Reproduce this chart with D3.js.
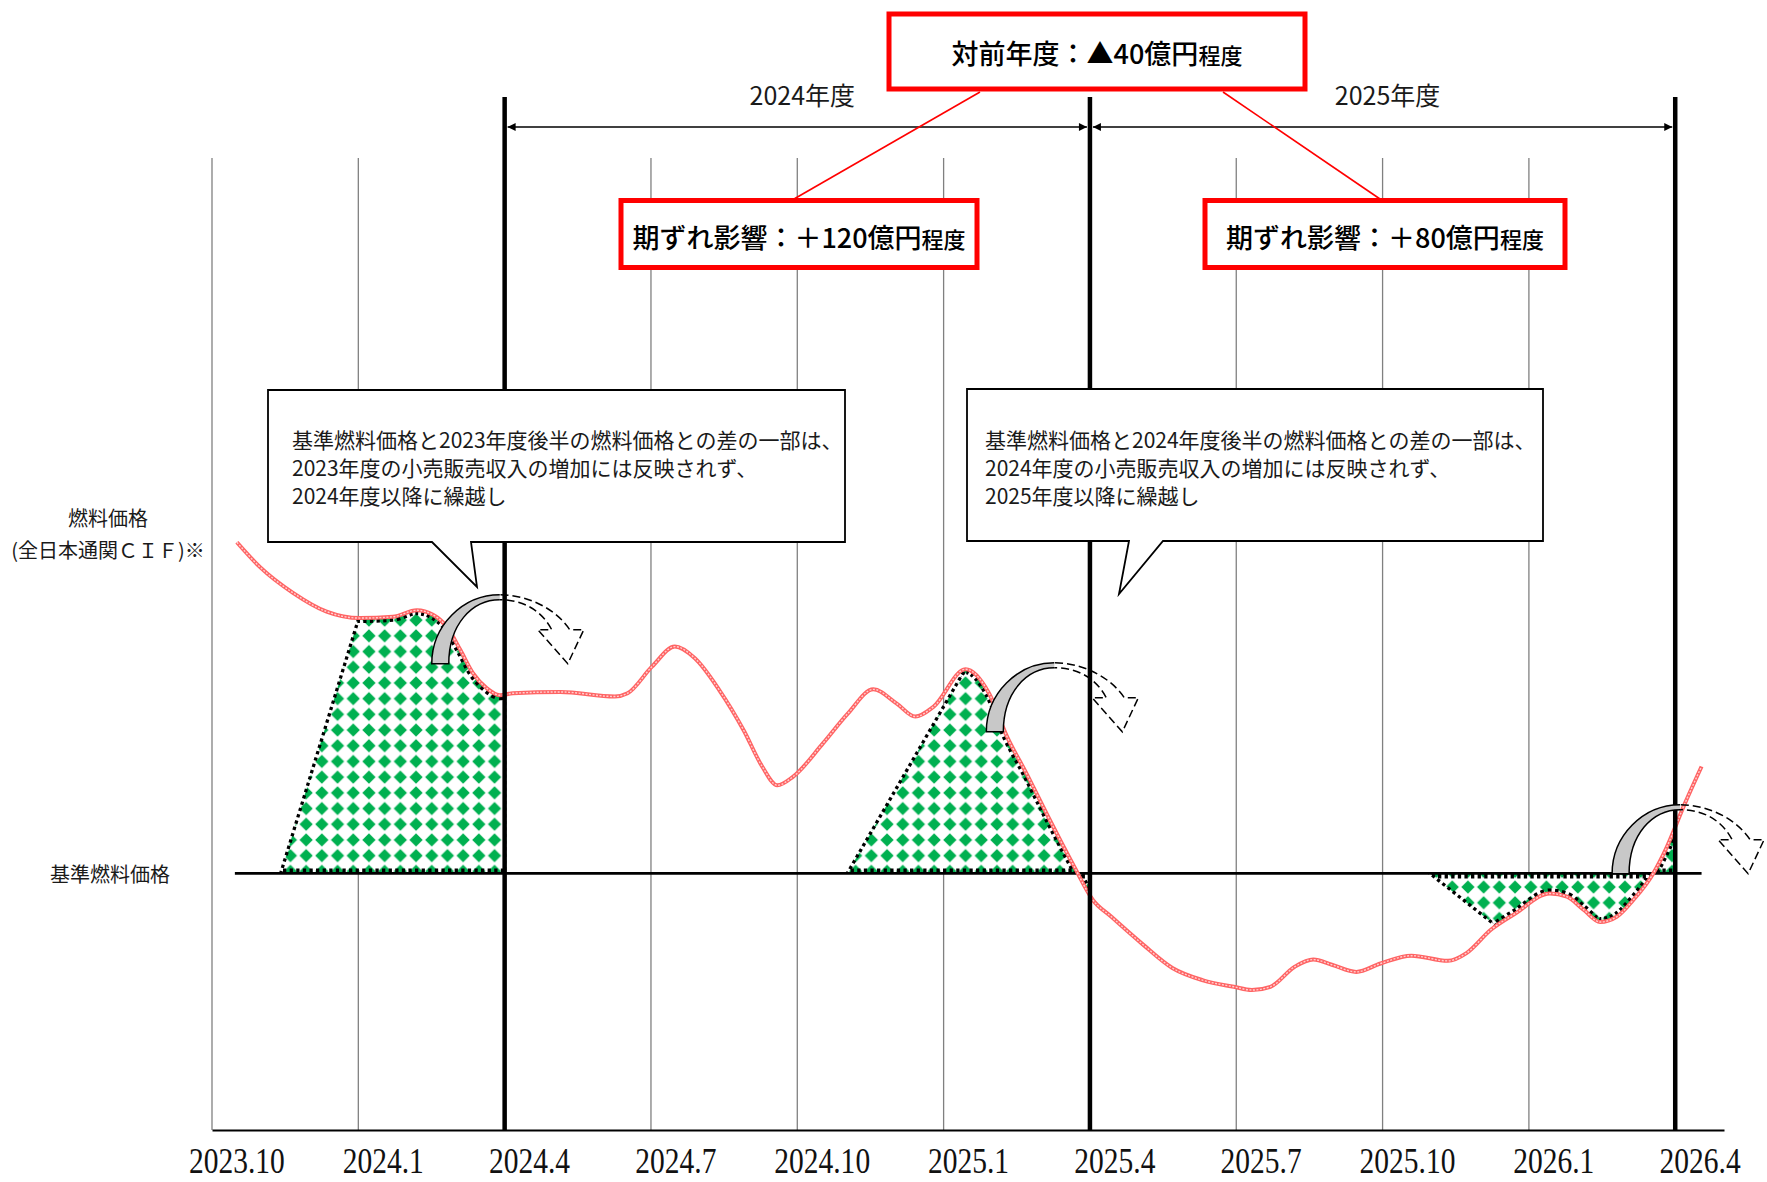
<!DOCTYPE html>
<html>
<head>
<meta charset="utf-8">
<script src="https://cdn.jsdelivr.net/npm/d3@7"></script>
<style>
body { margin: 0; background: #fff; }
svg { display: block; }
text { font-family: "Noto Sans CJK JP", "Noto Sans", sans-serif; fill: #1a1a1a; }
</style>
</head>
<body>
<div id="chart"></div>
<script>
const width = 1767, height = 1182;

// x = months counted from 2023.10, one grid line every 3 months
const tickLabels = ['2023.10', '2024.1', '2024.4', '2024.7', '2024.10', '2025.1', '2025.4', '2025.7', '2025.10', '2026.1', '2026.4'];
const fiscalYearEnds = [6, 18, 30];
const fiscalYears = ['2024年度', '2025年度'];

// fuel price (index, no scale shown) and the base fuel price
const baseFuelPrice = 39.6;
const priceMonths = [0.51, 0.98, 1.66, 2.35, 3.03, 3.71, 4.2, 4.53, 4.81, 5.09, 5.35, 5.63, 5.9, 6.17, 7.14,
    8.26, 8.52, 9.02, 9.49, 9.9, 10.4, 10.9, 11.28, 11.59, 11.91, 12.53, 13.04, 13.56, 14.04, 14.42,
    14.79, 15.45, 15.93, 16.3, 16.7, 17.18, 17.68, 18.06, 18.44, 19.06, 19.69, 20.32, 20.95, 21.32, 21.7,
    22.2, 22.58, 22.96, 23.46, 23.96, 24.59, 25.34, 25.72, 26.22, 26.72, 27.43, 27.78, 28.12, 28.46, 28.8,
    29.14, 29.55, 29.83, 30.17, 30.54];
const priceValues = [90.7, 86.9, 82.9, 80.0, 79.0, 79.2, 80.2, 79.5, 77.7, 74.1, 70.5, 68.2, 67.1, 67.4, 67.6,
    66.9, 67.4, 71.5, 74.6, 72.8, 67.9, 61.7, 56.1, 53.2, 54.5, 59.7, 64.3, 68.0, 65.8, 63.8,
    65.3, 71.1, 67.4, 60.7, 55.0, 47.8, 40.6, 35.5, 32.9, 28.8, 25.0, 23.1, 22.1, 21.6, 22.1,
    25.2, 26.3, 25.5, 24.4, 25.7, 26.9, 26.1, 27.3, 30.9, 33.4, 36.5, 36.0, 34.0, 32.1, 32.9,
    35.5, 39.6, 43.7, 49.9, 56.1];

// carried-over parts: clip polygons [month, price] cut out of the gap between price and base
const carryRegion1 = [[0.61, 20], [3.62, 94], [6, 94], [6, 20]];
const carryRegion2 = [[11.52, 20], [17.66, 100], [18, 100], [18, 20]];
const carryRegion3 = [[24.06, 45], [29.1, 15], [30, 15], [30, 60], [24.06, 60]];
const carryRegions = [carryRegion1, carryRegion2, carryRegion3];

// curved carry-over arrows, anchored at their top [month, price]
const arrowAnchors = [[5.9, 82.6], [17.27, 72.1], [30.1, 50.2]];

const noteLines1 = ['基準燃料価格と2023年度後半の燃料価格との差の一部は、', '2023年度の小売販売収入の増加には反映されず、', '2024年度以降に繰越し'];
const noteLines2 = ['基準燃料価格と2024年度後半の燃料価格との差の一部は、', '2024年度の小売販売収入の増加には反映されず、', '2025年度以降に繰越し'];
const boxTexts = [['対前年度：▲40億円', '程度'], ['期ずれ影響：＋120億円', '程度'], ['期ずれ影響：＋80億円', '程度']];

const x = d3.scaleLinear().domain([0, 31]).range([212, 1724]);
const y = d3.scaleLinear().domain([0, 150]).range([1130, 158]);

const svg = d3.select('#chart').append('svg')
    .attr('width', width)
    .attr('height', height);
const defs = svg.append('defs');

function setAttrs(sel, attrs) {
    Object.keys(attrs).forEach(k => sel.attr(k, attrs[k]));
    return sel;
}

// green diamond check
const pat = defs.append('pattern')
    .attr('id', 'diamonds')
    .attr('patternUnits', 'userSpaceOnUse')
    .attr('width', 15.7)
    .attr('height', 15.7);
pat.append('rect').attr('width', 15.7).attr('height', 15.7).attr('fill', '#fff');
pat.append('path').attr('d', 'M7.85,1.2L14.5,7.85L7.85,14.5L1.2,7.85Z').attr('fill', '#00b050');

const arrowMarker = defs.append('marker')
    .attr('id', 'arrowHead')
    .attr('viewBox', '0 0 10 10')
    .attr('refX', 10).attr('refY', 5)
    .attr('markerWidth', 11).attr('markerHeight', 8)
    .attr('markerUnits', 'userSpaceOnUse')
    .attr('orient', 'auto-start-reverse');
arrowMarker.append('path').attr('d', 'M0,0L10,5L0,10Z').attr('fill', '#000');

const priceData = priceMonths.map((m, i) => ({ m: m, v: priceValues[i] }));
const line = d3.line().x(d => x(d.m)).y(d => y(d.v)).curve(d3.curveMonotoneX);
const area = d3.area().x(d => x(d.m)).y0(y(baseFuelPrice)).y1(d => y(d.v)).curve(d3.curveMonotoneX);
const polyLine = d3.line().x(p => x(p[0])).y(p => y(p[1]));

defs.append('clipPath').attr('id', 'gap').append('path').attr('d', area(priceData));
carryRegions.forEach((poly, i) => {
    defs.append('clipPath').attr('id', 'carry' + i).append('path').attr('d', polyLine(poly) + 'Z');
});
defs.append('clipPath').attr('id', 'leftHalf').append('rect')
    .attr('x', -200).attr('y', -50).attr('width', 200).attr('height', 200);
defs.append('clipPath').attr('id', 'rightHalf').append('rect')
    .attr('x', 0).attr('y', -50).attr('width', 200).attr('height', 200);

// thin grid
svg.append('g').selectAll('line')
    .data(d3.range(0, 31, 3))
    .enter()
    .append('line')
    .attr('x1', d => x(d)).attr('x2', d => x(d))
    .attr('y1', y(150)).attr('y2', y(0))
    .attr('stroke', '#808080')
    .attr('stroke-width', 1.3);

// x axis
const xAxis = svg.append('g')
    .attr('transform', `translate(0,${y(0)})`)
    .call(d3.axisBottom(x)
        .tickValues(d3.range(11).map(i => i * 3 + 0.5))
        .tickFormat((d, i) => tickLabels[i])
        .tickSize(0)
        .tickSizeOuter(0)
        .tickPadding(17));
xAxis.select('.domain').attr('stroke', '#000').attr('stroke-width', 2);
xAxis.selectAll('text')
    .style('font-family', '"Liberation Serif", "DejaVu Serif", serif')
    .attr('font-size', 36)
    .style('fill', '#111')
    .attr('transform', 'scale(0.82,1)');

// carried-over areas
carryRegions.forEach((poly, i) => {
    svg.append('path')
        .attr('d', area(priceData))
        .attr('fill', 'url(#diamonds)')
        .attr('clip-path', `url(#carry${i})`);
});

const dotted = { fill: 'none', stroke: '#000', 'stroke-dasharray': '3.3,3.3' };
carryRegions.forEach((poly, i) => {
    setAttrs(svg.append('g').attr('clip-path', 'url(#gap)').append('path'), dotted)
        .attr('d', area(priceData))
        .attr('stroke-width', 10)
        .attr('clip-path', `url(#carry${i})`);
    setAttrs(svg.append('path'), dotted)
        .attr('d', polyLine(poly) + 'Z')
        .attr('stroke-width', 3.3)
        .attr('clip-path', 'url(#gap)');
});

// base fuel price
svg.append('line')
    .attr('x1', x(priceMonths[0]) - 2).attr('x2', x(priceMonths[priceMonths.length - 1]))
    .attr('y1', y(baseFuelPrice)).attr('y2', y(baseFuelPrice))
    .attr('stroke', '#000')
    .attr('stroke-width', 2.6);

// fuel price line
svg.append('path')
    .datum(priceData)
    .attr('d', line)
    .attr('fill', 'none')
    .attr('stroke', '#ff6464')
    .attr('stroke-width', 4);
svg.append('path')
    .datum(priceData)
    .attr('d', line)
    .attr('fill', 'none')
    .attr('stroke', '#ffd0d0')
    .attr('stroke-width', 1.4)
    .attr('stroke-dasharray', '2,1.5');

// fiscal year boundaries
svg.append('g').selectAll('line')
    .data(fiscalYearEnds)
    .enter()
    .append('line')
    .attr('x1', d => x(d)).attr('x2', d => x(d))
    .attr('y1', 97).attr('y2', y(0))
    .attr('stroke', '#000')
    .attr('stroke-width', 4.5);

// fiscal year spans
fiscalYears.forEach((label, i) => {
    const a = fiscalYearEnds[i], b = fiscalYearEnds[i + 1];
    svg.append('line')
        .attr('x1', x(a) + 3).attr('x2', x(b) - 3)
        .attr('y1', 127).attr('y2', 127)
        .attr('stroke', '#000')
        .attr('stroke-width', 1.6)
        .attr('marker-start', 'url(#arrowHead)')
        .attr('marker-end', 'url(#arrowHead)');
    svg.append('text')
        .attr('x', x((a + b) / 2) + 5)
        .attr('y', 105)
        .attr('text-anchor', 'middle')
        .attr('font-size', 25)
        .text(label);
});

// curved arrows
const arrowPath = 'M-68,69C-68,31 -37,0 0,0C28,0 56,14 70,35L84,35L68,69L38,35L52,35C42,16 24,5 0,5C-28,5 -51,30 -51,69Z';
arrowAnchors.forEach(p => {
    const g = svg.append('g').attr('transform', `translate(${x(p[0])},${y(p[1])})`);
    g.append('path').attr('d', arrowPath).attr('fill', '#c8c8c8').attr('clip-path', 'url(#leftHalf)');
    g.append('path').attr('d', arrowPath).attr('fill', 'none')
        .attr('stroke', '#000').attr('stroke-width', 1.5)
        .attr('clip-path', 'url(#leftHalf)');
    g.append('path').attr('d', arrowPath).attr('fill', 'none')
        .attr('stroke', '#000').attr('stroke-width', 1.5)
        .attr('stroke-dasharray', '8,4')
        .attr('clip-path', 'url(#rightHalf)');
});

// callouts
const callouts = [
    { d: 'M268,390H845V542H471L477,587L432,542H268Z', tx: 292, lines: noteLines1 },
    { d: 'M967,389H1543V541H1163L1119,594L1129,541H967Z', tx: 985, lines: noteLines2 }
];
callouts.forEach(c => {
    svg.append('path')
        .attr('d', c.d)
        .attr('fill', '#fff')
        .attr('stroke', '#000')
        .attr('stroke-width', 1.8);
    c.lines.forEach((t, i) => {
        svg.append('text')
            .attr('x', c.tx)
            .attr('y', 448 + i * 27.8)
            .attr('font-size', 21)
            .text(t);
    });
});

// red boxes and their links
const boxes = [
    { x: 889, y: 14, w: 416, h: 75, ty: 64 },
    { x: 621, y: 200.5, w: 356, h: 67, ty: 248 },
    { x: 1205, y: 200.5, w: 360, h: 67, ty: 248 }
];
svg.append('line').attr('x1', 980).attr('y1', 92).attr('x2', 794).attr('y2', 199)
    .attr('stroke', '#ff0000').attr('stroke-width', 1.6);
svg.append('line').attr('x1', 1223).attr('y1', 92).attr('x2', 1380).attr('y2', 199)
    .attr('stroke', '#ff0000').attr('stroke-width', 1.6);
boxes.forEach((b, i) => {
    svg.append('rect')
        .attr('x', b.x).attr('y', b.y)
        .attr('width', b.w).attr('height', b.h)
        .attr('fill', '#fff')
        .attr('stroke', '#ff0000')
        .attr('stroke-width', 5);
    const t = svg.append('text')
        .attr('x', b.x + b.w / 2)
        .attr('y', b.ty)
        .attr('text-anchor', 'middle')
        .attr('font-weight', 500)
        .style('fill', '#000');
    t.append('tspan').attr('font-size', 27).text(boxTexts[i][0]);
    t.append('tspan').attr('font-size', 22).text(boxTexts[i][1]);
});

// left labels
svg.append('text').attr('x', 108).attr('y', 526).attr('text-anchor', 'middle').attr('font-size', 20).text('燃料価格');
svg.append('text').attr('x', 108).attr('y', 558).attr('text-anchor', 'middle').attr('font-size', 20).text('(全日本通関ＣＩＦ)※');
svg.append('text').attr('x', 110).attr('y', 882).attr('text-anchor', 'middle').attr('font-size', 20).text('基準燃料価格');
</script>
</body>
</html>
